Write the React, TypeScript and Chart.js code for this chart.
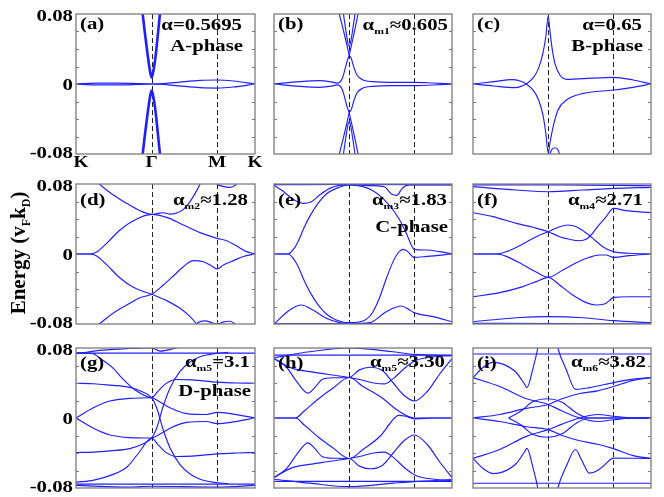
import { useEffect, useRef } from "react";
import { Chart, registerables } from "chart.js";

Chart.register(...registerables);

// ---- k-path (fraction of K-Γ-M-K path) and energy axis ----
const K_GAMMA = 0.4226;
const K_M = 0.7887;
const kTickValues = [0, K_GAMMA, K_M, 1];
const kTickLabels = ["K", "Γ", "M", "K"];
const eMinorTicks = [-0.06, -0.04, -0.02, 0, 0.02, 0.04, 0.06];
const eTickValues = [0.08, 0, -0.08];
const eTickLabels = ["0.08", "0", "-0.08"];
const yTitle = "Energy (v_{F}k_{D})";

const panelTags = ["(a)", "(b)", "(c)", "(d)", "(e)", "(f)", "(g)", "(h)", "(i)"];
const alphaTexts = [
  "α=0.5695", "α_{m1}≈0.605", "α=0.65",
  "α_{m2}≈1.28", "α_{m3}≈1.83", "α_{m4}≈2.71",
  "α_{m5}=3.1", "α_{m5}≈3.30", "α_{m6}≈3.82",
];
const phaseTexts = ["A-phase", "", "B-phase", "", "C-phase", "", "D-phase", "", ""];

// ---- bands: each band is a list of [k, E] samples ----
const bandsA = [
  [[0, 0], [0.115, 0.0011], [0.227, 0.0011], [0.358, 0.0004], [0.4226, 0], [0.544, 0.0015], [0.693, 0.0042], [0.7887, 0.0046], [0.879, 0.0034], [1, 0]],
  [[0, 0], [0.115, -0.0011], [0.227, -0.0011], [0.358, -0.0004], [0.4226, 0], [0.544, -0.0015], [0.693, -0.0042], [0.7887, -0.0046], [0.879, -0.0034], [1, 0]],
  [[0.362, 0.095], [0.3724, 0.08], [0.385, 0.058], [0.398, 0.037], [0.41, 0.019], [0.417, 0.011], [0.4226, 0.0076], [0.428, 0.011], [0.436, 0.019], [0.448, 0.038], [0.459, 0.06], [0.469, 0.08], [0.478, 0.095]],
  [[0.362, -0.095], [0.3724, -0.08], [0.385, -0.058], [0.398, -0.037], [0.41, -0.019], [0.417, -0.011], [0.4226, -0.0076], [0.428, -0.011], [0.436, -0.019], [0.448, -0.038], [0.459, -0.06], [0.469, -0.08], [0.478, -0.095]],
];
const bandsB = [
  [[0.352, 0.095], [0.367, 0.08], [0.388, 0.063], [0.408, 0.046], [0.4226, 0.0331], [0.434, 0.0293], [0.4476, 0.0198], [0.466, 0.0103], [0.5, 0.0046], [0.556, 0.0027], [0.667, 0.0019], [0.7887, 0.0019], [0.893, 0.0011], [1, 0]],
  [[0, 0], [0.144, 0.0027], [0.2566, 0.0038], [0.32, 0.0025], [0.355, 0.001], [0.37, 0.0023], [0.384, 0.0065], [0.397, 0.0152], [0.41, 0.0255], [0.4226, 0.0331], [0.437, 0.046], [0.455, 0.063], [0.472, 0.08], [0.485, 0.095]],
  [[0.38, 0.095], [0.39, 0.08], [0.403, 0.062], [0.414, 0.048], [0.4226, 0.043], [0.431, 0.048], [0.442, 0.062], [0.455, 0.08], [0.464, 0.095]],
  [[0.352, -0.095], [0.367, -0.08], [0.388, -0.063], [0.408, -0.046], [0.4226, -0.0331], [0.434, -0.0293], [0.4476, -0.0198], [0.466, -0.0103], [0.5, -0.0046], [0.556, -0.0027], [0.667, -0.0019], [0.7887, -0.0019], [0.893, -0.0011], [1, 0]],
  [[0, 0], [0.144, -0.0027], [0.2566, -0.0038], [0.32, -0.0025], [0.355, -0.001], [0.37, -0.0023], [0.384, -0.0065], [0.397, -0.0152], [0.41, -0.0255], [0.4226, -0.0331], [0.437, -0.046], [0.455, -0.063], [0.472, -0.08], [0.485, -0.095]],
  [[0.38, -0.095], [0.39, -0.08], [0.403, -0.062], [0.414, -0.048], [0.4226, -0.043], [0.431, -0.048], [0.442, -0.062], [0.455, -0.08], [0.464, -0.095]],
];
const bandsC = [
  [[0, 0], [0.116, -0.0023], [0.237, -0.0042], [0.275, -0.0023], [0.299, 0], [0.34, 0.0076], [0.368, 0.0179], [0.3925, 0.035], [0.409, 0.054], [0.4226, 0.0777], [0.4318, 0.0617], [0.443, 0.0427], [0.46, 0.0236], [0.488, 0.0103], [0.527, 0.0053], [0.62, 0.0061], [0.7887, 0.0076], [0.9, 0.0046], [1, 0]],
  [[0, 0], [0.116, 0.0027], [0.219, 0.005], [0.265, 0.0034], [0.299, 0], [0.34, -0.0076], [0.368, -0.018], [0.3925, -0.035], [0.409, -0.056], [0.4226, -0.079], [0.4318, -0.068], [0.45, -0.049], [0.477, -0.03], [0.527, -0.018], [0.62, -0.0107], [0.7887, -0.0069], [0.9, -0.0038], [1, 0]],
  [[0.43, -0.083], [0.436, -0.078], [0.445, -0.0745], [0.462, -0.0728], [0.478, -0.0755], [0.49, -0.083]],
];
const bandsD = [
  [[0.097, 0.0865], [0.13, 0.08], [0.2086, 0.0674], [0.283, 0.0579], [0.3575, 0.0495], [0.4226, 0.0453], [0.46, 0.0465], [0.488, 0.0472], [0.525, 0.0455], [0.562, 0.0468], [0.6, 0.051], [0.637, 0.0598], [0.674, 0.0724], [0.693, 0.08], [0.702, 0.085]],
  [[0, 0], [0.078, 0], [0.1155, 0.0023], [0.171, 0.0122], [0.246, 0.0274], [0.32, 0.038], [0.4226, 0.0453], [0.5065, 0.0419], [0.6, 0.0331], [0.693, 0.0244], [0.7887, 0.0179], [0.842, 0.0152], [0.8976, 0.0091], [0.953, 0.0027], [1, 0]],
  [[0, 0], [0.078, 0], [0.1155, -0.0023], [0.171, -0.0122], [0.246, -0.0274], [0.32, -0.038], [0.4226, -0.0461], [0.5065, -0.0533], [0.581, -0.0621], [0.637, -0.0716], [0.674, -0.08], [0.693, -0.085]],
  [[0.097, -0.085], [0.13, -0.08], [0.2086, -0.0674], [0.283, -0.0583], [0.3575, -0.0499], [0.4226, -0.0461], [0.488, -0.0354], [0.544, -0.0251], [0.6, -0.0145], [0.655, -0.0076], [0.711, -0.0088], [0.758, -0.0137], [0.7887, -0.0171], [0.823, -0.0126], [0.879, -0.0076], [0.944, -0.0023], [1, 0]],
  [[0.66, -0.083], [0.68, -0.0785], [0.72, -0.0765], [0.76, -0.0785], [0.7887, -0.0805], [0.82, -0.0778], [0.86, -0.0768], [0.9, -0.0815]],
  [[0.775, 0.083], [0.7887, 0.0798], [0.82, 0.0773], [0.86, 0.0762], [0.89, 0.0785], [0.905, 0.082]],
];
const bandsE = [
  [[0, 0.0792], [0.4226, 0.0795], [1, 0.0792]],
  [[0, 0.0785], [0.05, 0.072], [0.107, 0.0625], [0.163, 0.0579], [0.21, 0.0598], [0.2566, 0.0674], [0.3127, 0.075], [0.369, 0.0785], [0.4226, 0.079], [0.55, 0.0782], [0.62, 0.0768], [0.66, 0.0685], [0.69, 0.067], [0.72, 0.075], [0.76, 0.079], [1, 0.079]],
  [[0, 0], [0.079, 0], [0.107, 0.0046], [0.135, 0.0141], [0.163, 0.0274], [0.2, 0.0427], [0.247, 0.0579], [0.294, 0.0686], [0.35, 0.075], [0.4226, 0.0789], [0.5, 0.077], [0.556, 0.0724], [0.612, 0.0636], [0.6685, 0.0503], [0.706, 0.0389], [0.7434, 0.0236], [0.7715, 0.0103], [0.7865, 0.0053], [0.856, 0.0046], [0.93, 0.0027], [1, 0]],
  [[0, 0], [0.079, 0], [0.107, -0.0046], [0.135, -0.0141], [0.163, -0.0274], [0.2, -0.0427], [0.247, -0.0579], [0.294, -0.0686], [0.35, -0.0754], [0.4226, -0.0785], [0.5, -0.0765], [0.55, -0.068], [0.593, -0.05], [0.631, -0.028], [0.6685, -0.009], [0.7, 0.002], [0.7247, 0.0053], [0.75, 0.003], [0.7865, -0.0038], [0.86, -0.0027], [1, 0]],
  [[0, -0.08], [0.088, -0.064], [0.1536, -0.0583], [0.219, -0.064], [0.294, -0.0735], [0.369, -0.0785], [0.4226, -0.0795], [0.537, -0.0785], [0.631, -0.0659], [0.7153, -0.0594], [0.762, -0.064], [0.7865, -0.067], [0.893, -0.0716], [1, -0.0774]],
  [[0, -0.0795], [1, -0.0795]],
];
const bandsF = [
  [[0, 0.079], [0.5, 0.079], [1, 0.078]],
  [[0, 0.077], [0.243, 0.0731], [0.4226, 0.0712], [0.617, 0.0731], [0.7887, 0.075], [1, 0.0762]],
  [[0, 0.0472], [0.112, 0.0427], [0.243, 0.035], [0.336, 0.0305], [0.4226, 0.0255], [0.486, 0.0198], [0.542, 0.0168], [0.598, 0.0152], [0.636, 0.0168], [0.664, 0.0217], [0.7, 0.0312], [0.748, 0.0427], [0.7887, 0.0522], [0.86, 0.0495], [1, 0.0472]],
  [[0, 0], [0.131, 0], [0.187, 0.0027], [0.28, 0.0114], [0.355, 0.0198], [0.4226, 0.0255], [0.486, 0.0312], [0.533, 0.0331], [0.58, 0.0312], [0.626, 0.0255], [0.673, 0.0179], [0.729, 0.0084], [0.7887, 0.0027], [0.878, 0.0008], [1, 0]],
  [[0, 0], [0.131, 0], [0.187, -0.0027], [0.28, -0.0122], [0.355, -0.0206], [0.4226, -0.0267], [0.505, -0.0183], [0.58, -0.0099], [0.654, -0.0038], [0.71, -0.0011], [0.748, -0.0011], [0.7887, -0.0038], [0.878, -0.0019], [1, 0]],
  [[0, -0.0488], [0.15, -0.0442], [0.28, -0.0373], [0.355, -0.0316], [0.4226, -0.0267], [0.486, -0.0354], [0.56, -0.0469], [0.636, -0.0556], [0.692, -0.0583], [0.738, -0.0572], [0.766, -0.0533], [0.7887, -0.0495], [0.878, -0.0488], [1, -0.0488]],
  [[0, -0.0774], [0.243, -0.0728], [0.4226, -0.0716], [0.617, -0.0728], [0.7887, -0.0762], [1, -0.0785]],
  [[0, -0.0792], [0.5, -0.0795], [1, -0.08]],
];
const bandsG = [
  [[0, 0.0742], [1, 0.0742]],
  [[0, 0.0735], [0.15, 0.0775], [0.3, 0.0795], [0.42, 0.0805], [0.47, 0.0765], [0.55, 0.0795], [0.6, 0.082]],
  [[0, -0.0755], [1, -0.0755]],
  [[0, -0.077], [0.3, -0.079], [0.4226, -0.078], [0.6, -0.0785], [0.7887, -0.079], [1, -0.077]],
  [[0, 0.0397], [0.1, 0.0392], [0.19, 0.0375], [0.3, 0.035], [0.37, 0.03], [0.4226, 0.0232], [0.45, 0.012], [0.488, -0.014], [0.525, -0.034], [0.58, -0.053], [0.637, -0.064], [0.693, -0.07], [0.77, -0.0735], [0.85, -0.075]],
  [[0, -0.0394], [0.1, -0.039], [0.19, -0.0375], [0.3, -0.035], [0.37, -0.03], [0.4226, -0.0229], [0.45, -0.012], [0.488, 0.014], [0.525, 0.034], [0.58, 0.053], [0.637, 0.064], [0.693, 0.07], [0.77, 0.0735], [0.85, 0.075]],
  [[0, 0.0745], [0.05, 0.0745], [0.095, 0.0735], [0.15, 0.066], [0.207, 0.057], [0.26, 0.045], [0.33, 0.032], [0.4226, 0.0232], [0.46, 0.031], [0.5, 0.039], [0.56, 0.044], [0.65, 0.0435], [0.7887, 0.041], [0.9, 0.04], [1, 0.0397]],
  [[0, -0.0735], [0.1, -0.071], [0.2, -0.065], [0.285, -0.056], [0.35, -0.04], [0.4226, -0.0229], [0.46, -0.031], [0.5, -0.039], [0.56, -0.044], [0.65, -0.0435], [0.7887, -0.041], [0.9, -0.04], [1, -0.0394]],
  [[0, 0], [0.097, 0.0117], [0.19, 0.0194], [0.3, 0.0224], [0.4226, 0.0232], [0.46, 0.0194], [0.525, 0.0117], [0.618, 0.005], [0.73, 0.004], [0.7887, 0.0065], [0.879, 0.0045], [1, 0]],
  [[0, 0], [0.097, -0.0117], [0.19, -0.0194], [0.3, -0.0224], [0.4226, -0.0229], [0.46, -0.0194], [0.525, -0.0117], [0.618, -0.005], [0.73, -0.004], [0.7887, -0.0065], [0.879, -0.0045], [1, 0]],
];
const bandsH = [
  [[0, 0.0719], [1, 0.0719]],
  [[0, 0.069], [0.2, 0.0757], [0.4226, 0.08], [0.67, 0.0757], [0.7887, 0.0727], [1, 0.0711]],
  [[0, -0.0725], [1, -0.0725]],
  [[0, -0.07], [0.2, -0.0745], [0.4226, -0.0785], [0.67, -0.0745], [0.7887, -0.0727], [1, -0.0705]],
  [[0, 0.068], [0.07, 0.058], [0.13, 0.041], [0.19, 0.0284], [0.23, 0.035], [0.27, 0.044], [0.33, 0.046], [0.4226, 0.0463], [0.48, 0.055], [0.54, 0.058], [0.61, 0.054], [0.67, 0.04], [0.73, 0.026], [0.7887, 0.0194], [0.86, 0.03], [0.93, 0.05], [1, 0.068]],
  [[0, 0.068], [0.1, 0.057], [0.2, 0.053], [0.3, 0.05], [0.4226, 0.0463], [0.48, 0.044], [0.56, 0.04], [0.62, 0.039], [0.67, 0.045], [0.74, 0.058], [0.8, 0.066], [0.9, 0.07], [1, 0.0715]],
  [[0, 0], [0.12, 0], [0.17, 0.008], [0.25, 0.022], [0.33, 0.034], [0.4226, 0.0463], [0.5, 0.036], [0.6, 0.024], [0.7, 0.008], [0.7887, 0.0], [0.9, 0], [1, 0]],
  [[0, -0.068], [0.07, -0.058], [0.13, -0.041], [0.19, -0.0284], [0.23, -0.035], [0.27, -0.044], [0.33, -0.046], [0.4226, -0.0463], [0.48, -0.055], [0.54, -0.058], [0.61, -0.054], [0.67, -0.04], [0.73, -0.026], [0.7887, -0.0194], [0.86, -0.03], [0.93, -0.05], [1, -0.068]],
  [[0, -0.068], [0.1, -0.057], [0.2, -0.053], [0.3, -0.05], [0.4226, -0.0463], [0.48, -0.044], [0.56, -0.04], [0.62, -0.039], [0.67, -0.045], [0.74, -0.058], [0.8, -0.066], [0.9, -0.07], [1, -0.0715]],
  [[0, 0], [0.12, 0], [0.17, -0.008], [0.25, -0.022], [0.33, -0.034], [0.4226, -0.0463], [0.5, -0.036], [0.6, -0.02], [0.66, -0.004], [0.7, 0.003], [0.74, 0.002], [0.7887, -0.001], [0.9, 0], [1, 0]],
];
const bandsI = [
  [[0, 0.0731], [1, 0.0731]],
  [[0, -0.0746], [1, -0.0746]],
  [[0, 0.0462], [0.056, 0.0577], [0.112, 0.0635], [0.168, 0.0616], [0.243, 0.052], [0.29, 0.0386], [0.303, 0.0347], [0.336, 0.0558], [0.364, 0.08], [0.372, 0.09]],
  [[0, -0.0462], [0.056, -0.0577], [0.112, -0.0635], [0.168, -0.0616], [0.243, -0.052], [0.29, -0.0386], [0.303, -0.0347], [0.336, -0.0558], [0.364, -0.08], [0.372, -0.09]],
  [[0.468, 0.09], [0.477, 0.08], [0.523, 0.0558], [0.576, 0.0328], [0.654, 0.0347], [0.79, 0.0405], [0.9, 0.0445], [1, 0.0462]],
  [[0.468, -0.09], [0.477, -0.08], [0.523, -0.0558], [0.576, -0.036], [0.61, -0.048], [0.654, -0.063], [0.7, -0.06], [0.729, -0.0555], [0.79, -0.0459], [0.9, -0.046], [1, -0.0462]],
  [[0, 0.0462], [0.15, 0.036], [0.3, 0.022], [0.4226, 0.0155], [0.5, 0.008], [0.6, 0.0], [0.7, -0.004], [0.7887, -0.002], [0.9, 0], [1, 0]],
  [[0, -0.0462], [0.15, -0.036], [0.3, -0.021], [0.4226, -0.0133], [0.5, -0.007], [0.6, 0.0], [0.7, 0.004], [0.7887, 0.002], [0.9, 0], [1, 0]],
  [[0, 0], [0.15, 0.004], [0.3, 0.011], [0.4226, 0.0155], [0.5, 0.022], [0.6, 0.028], [0.7, 0.031], [0.7887, 0.036], [0.9, 0.043], [1, 0.0462]],
  [[0, 0], [0.15, -0.004], [0.3, -0.01], [0.4226, -0.0133], [0.5, -0.02], [0.6, -0.026], [0.7, -0.03], [0.7887, -0.035], [0.9, -0.043], [1, -0.0462]],
  [[0.2, 0.0], [0.27, 0.008], [0.33, 0.018], [0.4226, 0.022], [0.5, 0.018], [0.58, 0.006], [0.65, 0.0], [0.7887, 0.0], [1, 0]],
  [[0.2, 0.0], [0.27, -0.008], [0.33, -0.018], [0.4226, -0.022], [0.5, -0.018], [0.58, -0.006], [0.65, 0.0], [0.7887, 0.0], [1, 0]],
];
const allBands = [bandsA, bandsB, bandsC, bandsD, bandsE, bandsF, bandsG, bandsH, bandsI];

// ---- layout & style (not data) ----
const W = 664;
const H = 497;
const colEdges = [[76, 255], [274, 452], [473, 651]];
const rowEdges = [[14, 154], [184, 324], [348, 488]];
const tagBase = [15, 21, 20];
const alphaBase = [16, 21, 19];
const phaseBase = [37, 48, 48];
const alphaRightGap = [13, 4, 9, 7, 5, 8, 5, 7, 5];
const thickWidthsA = [1.2, 1.2, 2.6, 2.6];
const BLUE = "#1f1fff";
const SERIF = '"Liberation Serif", "Times New Roman", serif';
const STRETCH = 1.3;

type Part = { t: string; sub: boolean };
function parseRich(text: string): Part[] {
  const parts: Part[] = [];
  const re = /_\{([^}]*)\}/g;
  let last = 0;
  let m: RegExpExecArray | null;
  while ((m = re.exec(text))) {
    if (m.index > last) parts.push({ t: text.slice(last, m.index), sub: false });
    parts.push({ t: m[1], sub: true });
    last = m.index + m[0].length;
  }
  if (last < text.length) parts.push({ t: text.slice(last), sub: false });
  return parts;
}

function drawRich(
  ctx: CanvasRenderingContext2D,
  text: string,
  x: number,
  y: number,
  align: "left" | "right" | "center",
  size: number,
  sx: number
) {
  const parts = parseRich(text);
  const subSize = Math.round(size * 0.58);
  const widths = parts.map((p) => {
    ctx.font = `bold ${p.sub ? subSize : size}px ${SERIF}`;
    return ctx.measureText(p.t).width * sx;
  });
  const total = widths.reduce((a, b) => a + b, 0);
  let cx = align === "right" ? x - total : align === "center" ? x - total / 2 : x;
  parts.forEach((p, i) => {
    ctx.save();
    ctx.translate(cx, y + (p.sub ? size * 0.22 : 0));
    ctx.scale(sx, 1);
    ctx.font = `bold ${p.sub ? subSize : size}px ${SERIF}`;
    ctx.textAlign = "left";
    ctx.textBaseline = "alphabetic";
    ctx.fillStyle = "#000";
    ctx.fillText(p.t, 0, 0);
    ctx.restore();
    cx += widths[i];
  });
}

function makeDecor(idx: number) {
  const col = idx % 3;
  const row = Math.floor(idx / 3);
  return {
    id: "decor" + idx,
    beforeDatasetsDraw(chart: any) {
      const ctx: CanvasRenderingContext2D = chart.ctx;
      const { top, bottom } = chart.chartArea;
      const xs = chart.scales.x;
      ctx.save();
      ctx.strokeStyle = "#222";
      ctx.lineWidth = 1;
      ctx.setLineDash([5, 3]);
      [K_GAMMA, K_M].forEach((k) => {
        const px = Math.round(xs.getPixelForValue(k)) + 0.5;
        ctx.beginPath();
        ctx.moveTo(px, top);
        ctx.lineTo(px, bottom);
        ctx.stroke();
      });
      ctx.restore();
    },
    afterDatasetsDraw(chart: any) {
      const ctx: CanvasRenderingContext2D = chart.ctx;
      const { left, right, top, bottom } = chart.chartArea;
      const xs = chart.scales.x;
      const ys = chart.scales.y;
      ctx.save();
      ctx.strokeStyle = "#7c7c7c";
      ctx.lineWidth = 1.3;
      ctx.strokeRect(left, top, right - left, bottom - top);
      ctx.lineWidth = 1;
      eMinorTicks.forEach((v) => {
        const py = Math.round(ys.getPixelForValue(v)) + 0.5;
        ctx.beginPath();
        ctx.moveTo(left, py);
        ctx.lineTo(left + 3, py);
        ctx.moveTo(right, py);
        ctx.lineTo(right - 3, py);
        ctx.stroke();
      });
      ctx.restore();

      drawRich(ctx, panelTags[idx], left + 4, top + tagBase[row], "left", 16, STRETCH);
      drawRich(ctx, alphaTexts[idx], right - alphaRightGap[idx], top + alphaBase[row], "right", 16, STRETCH);
      if (phaseTexts[idx]) {
        drawRich(ctx, phaseTexts[idx], right - alphaRightGap[idx] + 1, top + phaseBase[row], "right", 16, STRETCH);
      }

      if (col === 0) {
        eTickValues.forEach((v, i) => {
          let py = ys.getPixelForValue(v) + 6;
          if (i === 0) py += 1;
          if (i === 2) py -= 2;
          drawRich(ctx, eTickLabels[i], left - 3, py, "right", 16, STRETCH);
        });
      }
      if (idx === 0) {
        kTickValues.forEach((k, i) => {
          let px = xs.getPixelForValue(k);
          if (i === 0) px += 5;
          drawRich(ctx, kTickLabels[i], px, bottom + 13, "center", 16, 1.2);
        });
      }
      if (idx === 3) {
        ctx.save();
        ctx.translate(25, 253);
        ctx.rotate(-Math.PI / 2);
        drawRich(ctx, yTitle, 0, 0, "center", 21, 1);
        ctx.restore();
      }
    },
  };
}

function Panel({ idx }: { idx: number }) {
  const ref = useRef<HTMLCanvasElement | null>(null);
  useEffect(() => {
    if (!ref.current) return;
    const col = idx % 3;
    const row = Math.floor(idx / 3);
    const [l, r] = colEdges[col];
    const [t, b] = rowEdges[row];
    const bands = allBands[idx];
    const chart = new Chart(ref.current, {
      type: "line",
      data: {
        datasets: bands.map((band, i) => ({
          data: band.map(([x, y]) => ({ x, y })),
          borderColor: BLUE,
          borderWidth: idx === 0 ? thickWidthsA[i] : 1.15,
          pointRadius: 0,
          fill: false,
          tension: 0.4,
          cubicInterpolationMode: "monotone" as const,
        })),
      },
      options: {
        responsive: false,
        animation: false,
        events: [],
        layout: { padding: { left: l, top: t, right: W - r, bottom: H - b } },
        plugins: { legend: { display: false }, tooltip: { enabled: false } },
        scales: {
          x: { type: "linear", min: 0, max: 1, display: false },
          y: { type: "linear", min: -0.08, max: 0.08, display: false },
        },
      },
      plugins: [makeDecor(idx)],
    } as any);
    return () => chart.destroy();
  }, [idx]);
  return (
    <canvas
      ref={ref}
      width={W}
      height={H}
      style={{ position: "absolute", left: 0, top: 0, width: W, height: H }}
    />
  );
}

export default function App() {
  return (
    <div style={{ position: "absolute", left: 0, top: 0, width: W, height: H, background: "#fff", overflow: "hidden" }}>
      {[0, 1, 2, 3, 4, 5, 6, 7, 8].map((i) => (
        <Panel key={i} idx={i} />
      ))}
    </div>
  );
}
